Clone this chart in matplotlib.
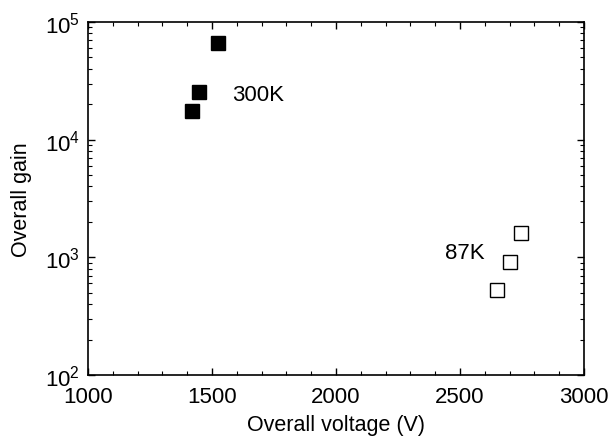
import numpy as np
import matplotlib
matplotlib.use('Agg')
import matplotlib.pyplot as plt
from matplotlib.ticker import MultipleLocator, LogLocator

plt.rcParams['font.family'] = ['Liberation Sans', 'DejaVu Sans']
plt.rcParams['mathtext.fontset'] = 'custom'
plt.rcParams['mathtext.rm'] = 'Liberation Sans'
plt.rcParams['mathtext.it'] = 'Liberation Sans'

# data
v_300k = [1418, 1449, 1525]
gain_300k = [17400, 25300, 65900]
v_87k = [2648, 2702, 2747]
gain_87k = [528, 908, 1600]

fig = plt.figure(figsize=(6.13, 4.39), dpi=100)
ax = fig.add_axes([0.1436, 0.1435, 0.8091, 0.8041])

ax.plot(v_300k, gain_300k, 's', color='k', markersize=10, linestyle='none')
ax.plot(v_87k, gain_87k, 's', markerfacecolor='white', markeredgecolor='k',
        markeredgewidth=1.0, markersize=10, linestyle='none')

ax.text(1581, 24400, '300K', fontsize=16, va='center', ha='left')
ax.text(2440, 1110, '87K', fontsize=16, va='center', ha='left')

ax.set_yscale('log')
ax.set_xlim(1000, 3000)
ax.set_ylim(1e2, 1e5)
ax.xaxis.set_major_locator(MultipleLocator(500))
ax.xaxis.set_minor_locator(MultipleLocator(100))
ax.yaxis.set_major_locator(LogLocator(base=10))
ax.yaxis.set_minor_locator(LogLocator(base=10, subs=np.arange(2, 10)))

ax.tick_params(which='both', direction='in', top=True, right=True, labelsize=16)
ax.tick_params(which='major', length=5, width=1)
ax.tick_params(which='minor', length=3, width=0.8)
ax.tick_params(axis='x', which='major', pad=8)
ax.tick_params(axis='y', which='major', pad=6)
for s in ax.spines.values():
    s.set_linewidth(1.2)

ax.set_xlabel('Overall voltage (V)', fontsize=15.5, labelpad=5)
ax.set_ylabel('Overall gain', fontsize=15.5, labelpad=9)

fig.savefig('out.png', dpi=100)
